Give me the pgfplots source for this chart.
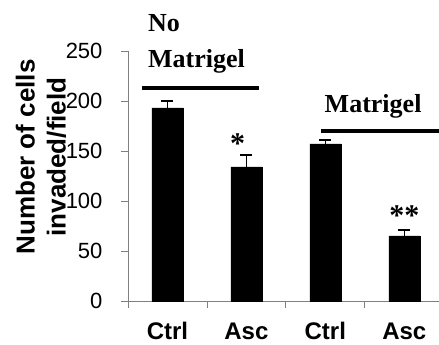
\documentclass[border=0pt]{standalone}
\usepackage{pgfplots}
\pgfplotsset{compat=1.18}
\usepackage{fontspec}
\setmainfont{Liberation Sans}
\newfontfamily\timesfont{Liberation Serif}
\begin{document}
\begin{tikzpicture}
\path[use as bounding box] (-128pt,-44pt) rectangle (311pt,301pt);
\begin{axis}[
  at={(0,0)}, anchor=south west,
  scale only axis, width=311pt, height=250pt,
  xmin=-0.5, xmax=3.44, ymin=0, ymax=250,
  clip=false,
  axis lines=left,
  axis line style={-, draw=gray, line width=0.8pt},
  tick align=outside, major tick length=7pt,
  tick style={gray, line width=0.8pt},
  ytick={0,50,...,250},
  yticklabel style={font=\fontsize{22}{22}\selectfont, xshift=-15pt, /pgf/number format/assume math mode=true},
  xtick={-0.5,0.5,1.5,2.5}, xticklabels={},
  extra x ticks={0,1,2,3},
  extra x tick labels={Ctrl,Asc,Ctrl,Asc},
  extra x tick style={major tick length=0pt,
    tick label style={font=\bfseries\fontsize{24}{24}\selectfont, yshift=-18pt}},
  ylabel={Number of cells\\invaded/field},
  ylabel style={at={(axis description cs:-0.28,0.576)}, anchor=center, align=center,
    font=\bfseries\fontsize{26}{31}\selectfont},
]
\addplot[ybar, bar width=31pt, fill=black, draw=black,
  error bars/.cd, y dir=plus, y explicit,
  error bar style={line width=1.5pt, black},
  error mark options={rotate=90, mark size=6pt, line width=1.5pt, black}]
  coordinates {(0,193) +- (0,7) (1,134) +- (0,12) (2,157) +- (0,4) (3,65) +- (0,6)};
\node[anchor=base west, inner sep=0pt, font=\timesfont\bfseries\fontsize{26}{26}\selectfont] at (axis cs:-0.247,269) {No};
\node[anchor=base west, inner sep=0pt, font=\timesfont\bfseries\fontsize{26}{26}\selectfont] at (axis cs:-0.247,233) {Matrigel};
\node[anchor=base west, inner sep=0pt, font=\timesfont\bfseries\fontsize{26}{26}\selectfont] at (axis cs:1.99,188) {Matrigel};
\draw[line width=4pt] (axis cs:-0.32,213) -- (axis cs:1.158,213);
\draw[line width=4pt] (axis cs:1.943,170) -- (axis cs:3.6,170);
\node[anchor=base, inner sep=0pt, font=\timesfont\bfseries\fontsize{30}{30}\selectfont] at (axis cs:0.89,147) {*};
\node[anchor=base, inner sep=0pt, font=\timesfont\bfseries\fontsize{30}{30}\selectfont] at (axis cs:3.0,75) {**};
\end{axis}
\end{tikzpicture}
\end{document}
